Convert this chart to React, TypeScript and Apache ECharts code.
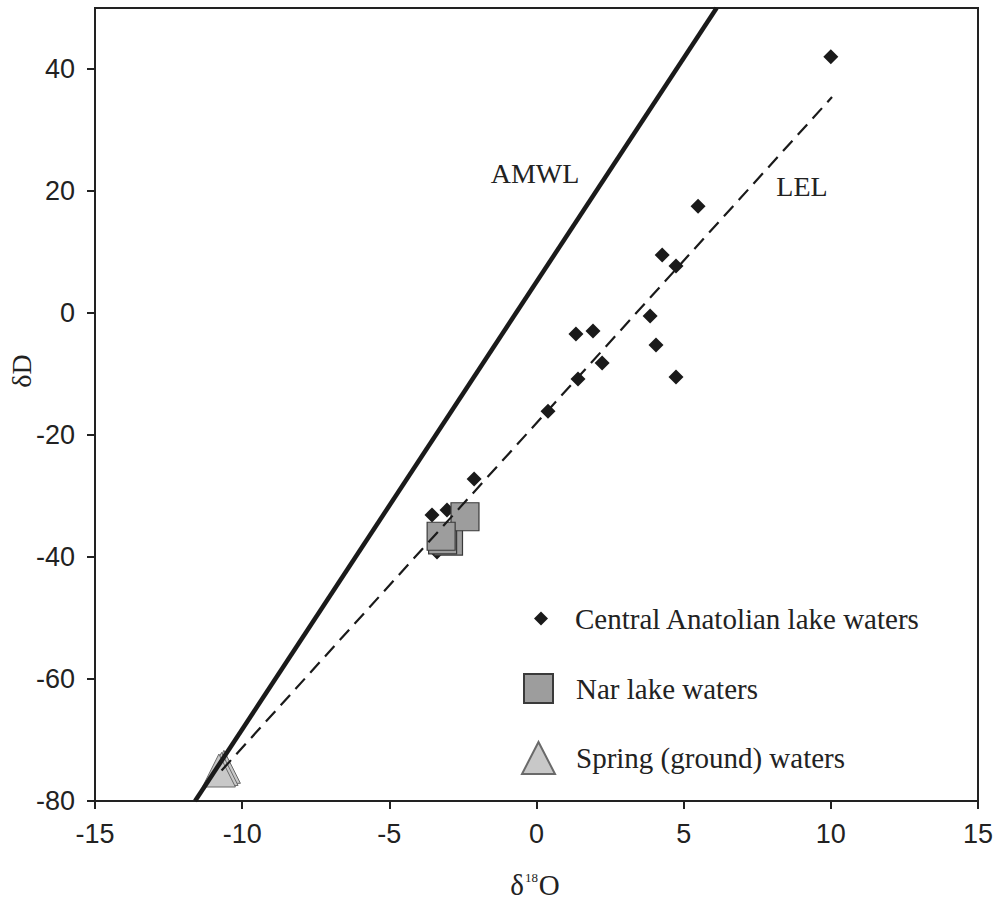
import React, { useEffect, useRef } from "react";
import * as echarts from "echarts";

const xTicks = [-15, -10, -5, 0, 5, 10, 15];
const yTickLabels = [-80, -60, -40, -20, 0, 20, 40];

// Central Anatolian lake waters
const centralO = [10.0, 5.49, 4.27, 4.74, 3.86, 1.92, 1.34, 4.06, 2.23, 1.41, 4.74, 0.39, -2.12, -3.04, -3.55, -3.38];
const centralD = [42.0, 17.5, 9.5, 7.7, -0.5, -2.95, -3.44, -5.25, -8.2, -10.8, -10.5, -16.1, -27.2, -32.3, -33.1, -39.2];

// Nar lake waters
const narO = [-2.99, -3.19, -2.43, -3.24];
const narD = [-37.4, -37.2, -33.4, -36.6];

// Spring (ground) waters
const springO = [-10.62, -10.7, -10.79];
const springD = [-74.4, -74.75, -75.0];

// Lines
const amwlO = [-11.6, 6.12];
const amwlD = [-80, 50];
const lelO = [-10.7, 10.04];
const lelD = [-75, 35.4];

const names = ["Central Anatolian lake waters", "Nar lake waters", "Spring (ground) waters"];

const zip = (a: number[], b: number[]) => a.map((v, i) => [v, b[i]]);

const SERIF = "'Liberation Serif', 'Times New Roman', serif";
const SANS = "'Liberation Sans', Arial, sans-serif";

export default function App() {
  const ref = useRef<HTMLDivElement>(null);
  useEffect(() => {
    document.body.style.margin = "0";
    const chart = echarts.init(ref.current!, null, { renderer: "svg" });
    const legendText = { fontFamily: SERIF, fontSize: 29, color: "#222" };
    chart.setOption({
      animation: false,
      backgroundColor: "#fff",
      grid: { left: 95, right: 24, top: 8, bottom: 102, show: true, borderColor: "#222", borderWidth: 2 },
      xAxis: {
        type: "value",
        min: -15,
        max: 15,
        interval: 5,
        splitLine: { show: false },
        axisLine: { onZero: false, lineStyle: { color: "#222", width: 2 } },
        axisTick: { length: 8, lineStyle: { color: "#222", width: 2 }, customValues: xTicks },
        axisLabel: { fontFamily: SANS, fontSize: 27, color: "#222", margin: 19, customValues: xTicks },
      },
      yAxis: {
        type: "value",
        min: -80,
        max: 50,
        interval: 20,
        splitLine: { show: false },
        axisLine: { onZero: false, lineStyle: { color: "#222", width: 2 } },
        axisTick: { length: 8, lineStyle: { color: "#222", width: 2 }, customValues: yTickLabels },
        axisLabel: { fontFamily: SANS, fontSize: 27, color: "#222", margin: 20, customValues: yTickLabels },
      },
      legend: [
        {
          data: [names[0]],
          left: 534,
          top: 604,
          padding: 0,
          itemWidth: 14,
          itemHeight: 14,
          textStyle: { ...legendText, padding: [0, 0, 0, 22] },
        },
        {
          data: [names[1]],
          left: 523,
          top: 673,
          padding: 0,
          itemWidth: 29,
          itemHeight: 29,
          textStyle: { ...legendText, padding: [0, 0, 0, 18] },
        },
        {
          data: [names[2]],
          left: 521,
          top: 741,
          padding: 0,
          itemWidth: 33,
          itemHeight: 32,
          textStyle: { ...legendText, padding: [0, 0, 0, 16] },
        },
      ],
      graphic: [
        {
          type: "text",
          x: 535,
          y: 173,
          style: { text: "AMWL", font: `28px ${SERIF}`, fill: "#222", align: "center", verticalAlign: "middle" },
        },
        {
          type: "text",
          x: 802,
          y: 186,
          style: { text: "LEL", font: `28px ${SERIF}`, fill: "#222", align: "center", verticalAlign: "middle" },
        },
        {
          type: "text",
          x: 21,
          y: 371,
          rotation: Math.PI / 2,
          style: { text: "δD", font: `28px ${SERIF}`, fill: "#222", align: "center", verticalAlign: "middle" },
        },
        {
          type: "text",
          x: 535,
          y: 885,
          style: {
            text: "{a|δ}{b|18}{a|O}",
            fill: "#222",
            align: "center",
            verticalAlign: "middle",
            rich: {
              a: { fontFamily: SERIF, fontSize: 29, color: "#222" },
              b: { fontFamily: SERIF, fontSize: 13, color: "#222", verticalAlign: "top", padding: [0, 1, 12, 1] },
            },
          },
        },
      ],
      series: [
        {
          name: "AMWL",
          type: "line",
          data: zip(amwlO, amwlD),
          symbol: "none",
          lineStyle: { color: "#1a1a1a", width: 4.5 },
          silent: true,
        },
        {
          name: "LEL",
          type: "line",
          data: zip(lelO, lelD),
          symbol: "none",
          lineStyle: { color: "#1a1a1a", width: 2.2, type: [14, 8] },
          silent: true,
        },
        {
          name: names[0],
          type: "scatter",
          data: zip(centralO, centralD),
          symbol: "diamond",
          symbolSize: 15,
          itemStyle: { color: "#1a1a1a", opacity: 1 },
        },
        {
          name: names[1],
          type: "scatter",
          data: zip(narO, narD),
          symbol: "rect",
          symbolSize: 28,
          itemStyle: { color: "#9d9d9d", borderColor: "#3a3a3a", borderWidth: 1.2, opacity: 1 },
        },
        {
          name: names[2],
          type: "scatter",
          data: zip(springO, springD),
          symbol: "triangle",
          symbolSize: [33, 33],
          itemStyle: { color: "#c8c8c8", borderColor: "#6a6a6a", borderWidth: 1, opacity: 1 },
        },
      ],
    });
    return () => chart.dispose();
  }, []);
  return <div ref={ref} style={{ width: 1002, height: 903 }} />;
}
